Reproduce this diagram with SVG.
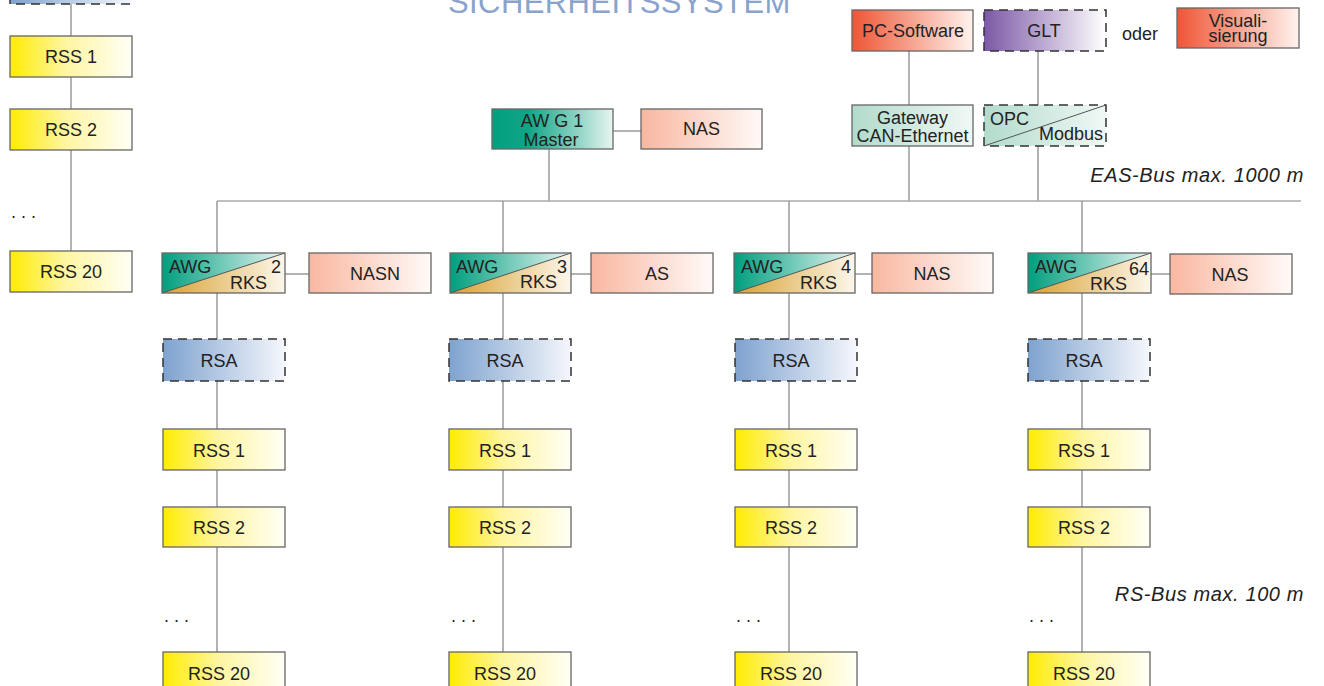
<svg xmlns="http://www.w3.org/2000/svg" width="1324" height="686" viewBox="0 0 1324 686">
<defs>
<linearGradient id="gY" x1="0" y1="0" x2="1" y2="0"><stop offset="0" stop-color="#ffec00"/><stop offset="0.45" stop-color="#fff5a0"/><stop offset="1" stop-color="#fffff6"/></linearGradient>
<linearGradient id="gB" x1="0" y1="0" x2="1" y2="0"><stop offset="0" stop-color="#7ea2cf"/><stop offset="1" stop-color="#f5f7fc"/></linearGradient>
<linearGradient id="gS" x1="0" y1="0" x2="1" y2="0"><stop offset="0" stop-color="#f9b7a0"/><stop offset="1" stop-color="#fffaf8"/></linearGradient>
<linearGradient id="gR" x1="0" y1="0" x2="1" y2="0"><stop offset="0" stop-color="#ef5535"/><stop offset="1" stop-color="#fff3ee"/></linearGradient>
<linearGradient id="gP" x1="0" y1="0" x2="1" y2="0"><stop offset="0" stop-color="#7c58a6"/><stop offset="1" stop-color="#ffffff"/></linearGradient>
<linearGradient id="gT" x1="0" y1="0" x2="1" y2="0"><stop offset="0" stop-color="#00a07f"/><stop offset="0.3" stop-color="#10a586"/><stop offset="1" stop-color="#e8f5f1"/></linearGradient>
<linearGradient id="gL" x1="0" y1="0" x2="1" y2="0"><stop offset="0" stop-color="#b2dbcc"/><stop offset="1" stop-color="#f0f8f5"/></linearGradient>
<linearGradient id="gA" x1="0" y1="0" x2="1" y2="0"><stop offset="0" stop-color="#009e7e"/><stop offset="1" stop-color="#e9f6f3"/></linearGradient>
<linearGradient id="gK" x1="0" y1="0" x2="1" y2="0"><stop offset="0" stop-color="#d9a02e"/><stop offset="1" stop-color="#fcf7ec"/></linearGradient>
</defs>
<style>
.t{font-family:"Liberation Sans",Arial,sans-serif;font-size:18px;fill:#222}
.c{text-anchor:middle}
.e{text-anchor:end}
.b{stroke:#666;stroke-width:1.3}
.d{stroke:#333;stroke-width:1.5;stroke-dasharray:9 6}
.ln{stroke:#9a9a9a;stroke-width:1.5;fill:none}
.bus{stroke:#aaa;stroke-width:1.6;fill:none}
.dg{stroke:#555;stroke-width:1;fill:none}
.it{font-family:"Liberation Sans",Arial,sans-serif;font-size:20px;font-style:italic;fill:#222;letter-spacing:0.6px}
.title{font-family:"Liberation Sans",Arial,sans-serif;font-size:31px;fill:#8aa3cc;letter-spacing:0.4px}
</style>
<rect width="1324" height="686" fill="#fff"/>
<text class="title" x="448" y="13">SICHERHEITSSYSTEM</text>
<g id="connectors">
<path class="ln" d="M71 4V36M71 77V109M71 150V251"/>
<path class="ln" d="M909 51V105M1038 51V105M909 146V201M1038 146V201M549 149V201M613 131H641"/>
<path class="bus" d="M217 201H1301"/>
<path class="ln" d="M217 201V253M217 293V339M217 381V429M217 470V507M217 547V652M217 693V700M285 274H309"/>
<path class="ln" d="M503 201V253M503 293V339M503 381V429M503 470V507M503 547V652M571 274H591"/>
<path class="ln" d="M789 201V253M789 293V339M789 381V429M789 470V507M789 547V652M855 274H872"/>
<path class="ln" d="M1082 201V253M1082 293V339M1082 381V429M1082 470V507M1082 547V652M1151 274H1170"/>
</g>
<g id="left-rsa"><rect x="10" y="-37" width="122" height="41" fill="url(#gB)" class="d"/></g>
<g id="left-rss1"><rect x="10" y="36" width="122" height="41" fill="url(#gY)" class="b"/><text class="t c" x="71" y="63">RSS 1</text></g>
<g id="left-rss2"><rect x="10" y="109" width="122" height="41" fill="url(#gY)" class="b"/><text class="t c" x="71" y="136">RSS 2</text></g>
<g id="left-dots"><text class="t" x="11" y="218">. . .</text></g>
<g id="left-rss20"><rect x="10" y="251" width="122" height="41" fill="url(#gY)" class="b"/><text class="t c" x="71" y="278">RSS 20</text></g>
<g id="pc-software"><rect x="852" y="10" width="121" height="41" fill="url(#gR)" class="b"/><text class="t c" x="913" y="37">PC-Software</text></g>
<g id="glt"><rect x="984" y="10" width="122" height="41" fill="url(#gP)" class="d"/><text class="t c" x="1044" y="37">GLT</text></g>
<g id="oder"><text class="t" x="1122" y="40">oder</text></g>
<g id="visualisierung"><rect x="1177" y="8" width="122" height="40" fill="url(#gR)" class="b"/><text class="t c" x="1238" y="27">Visuali-</text><text class="t c" x="1238" y="42">sierung</text></g>
<g id="gateway"><rect x="852" y="105" width="121" height="41" fill="url(#gL)" class="b"/><text class="t c" x="912.5" y="123.5">Gateway</text><text class="t c" x="912.5" y="141.5">CAN-Ethernet</text></g>
<g id="opc-modbus"><rect x="984" y="105" width="122" height="41" fill="url(#gL)" class="d"/><line class="dg" x1="984" y1="146" x2="1106" y2="105"/><text class="t" x="990" y="125">OPC</text><text class="t e" x="1103" y="140">Modbus</text></g>
<g id="awg1-master"><rect x="492" y="109" width="121" height="40" fill="url(#gT)" class="b"/><text class="t c" x="552" y="127">AW G 1</text><text class="t c" x="551" y="146">Master</text></g>
<g id="nas-master"><rect x="641" y="109" width="121" height="40" fill="url(#gS)" class="b"/><text class="t c" x="701.5" y="135">NAS</text></g>
<g id="eas-label"><text class="it e" x="1304" y="182">EAS-Bus max. 1000 m</text></g>
<g id="rs-label"><text class="it e" x="1304" y="601">RS-Bus max. 100 m</text></g>

<g id="awg2"><rect x="162" y="253" width="123" height="40" fill="url(#gA)"/><polygon points="162,293 285,253 285,293" fill="url(#gK)"/><line class="dg" x1="162" y1="293" x2="285" y2="253"/><rect x="162" y="253" width="123" height="40" fill="none" class="b"/><text class="t" x="169" y="273">AWG</text><text class="t e" x="267" y="289">RKS</text><text class="t e" x="281" y="273">2</text></g>
<g id="nasn"><rect x="309" y="253" width="122" height="40" fill="url(#gS)" class="b"/><text class="t c" x="375" y="280">NASN</text></g>
<g id="rsa-c1"><rect x="163" y="339" width="122" height="42" fill="url(#gB)" class="d"/><text class="t c" x="219" y="367">RSA</text></g>
<g id="rss1-c1"><rect x="163" y="429" width="122" height="41" fill="url(#gY)" class="b"/><text class="t c" x="219" y="456.5">RSS 1</text></g>
<g id="rss2-c1"><rect x="163" y="507" width="122" height="40" fill="url(#gY)" class="b"/><text class="t c" x="219" y="534">RSS 2</text></g>
<g id="dots-c1"><text class="t" x="164" y="622">. . .</text></g>
<g id="rss20-c1"><rect x="163" y="652" width="122" height="41" fill="url(#gY)" class="b"/><text class="t c" x="219" y="680">RSS 20</text></g>

<g id="awg3"><rect x="450" y="253" width="121" height="40" fill="url(#gA)"/><polygon points="450,293 571,253 571,293" fill="url(#gK)"/><line class="dg" x1="450" y1="293" x2="571" y2="253"/><rect x="450" y="253" width="121" height="40" fill="none" class="b"/><text class="t" x="456" y="273">AWG</text><text class="t e" x="557" y="288">RKS</text><text class="t e" x="567" y="273">3</text></g>
<g id="as"><rect x="591" y="253" width="122" height="40" fill="url(#gS)" class="b"/><text class="t c" x="657" y="280">AS</text></g>
<g id="rsa-c2"><rect x="449" y="339" width="122" height="42" fill="url(#gB)" class="d"/><text class="t c" x="505" y="367">RSA</text></g>
<g id="rss1-c2"><rect x="449" y="429" width="122" height="41" fill="url(#gY)" class="b"/><text class="t c" x="505" y="456.5">RSS 1</text></g>
<g id="rss2-c2"><rect x="449" y="507" width="122" height="40" fill="url(#gY)" class="b"/><text class="t c" x="505" y="534">RSS 2</text></g>
<g id="dots-c2"><text class="t" x="451" y="622">. . .</text></g>
<g id="rss20-c2"><rect x="449" y="652" width="122" height="41" fill="url(#gY)" class="b"/><text class="t c" x="505" y="680">RSS 20</text></g>

<g id="awg4"><rect x="734" y="253" width="121" height="40" fill="url(#gA)"/><polygon points="734,293 855,253 855,293" fill="url(#gK)"/><line class="dg" x1="734" y1="293" x2="855" y2="253"/><rect x="734" y="253" width="121" height="40" fill="none" class="b"/><text class="t" x="741" y="273">AWG</text><text class="t e" x="837" y="289">RKS</text><text class="t e" x="851" y="273">4</text></g>
<g id="nas-c3"><rect x="872" y="253" width="121" height="40" fill="url(#gS)" class="b"/><text class="t c" x="932" y="280">NAS</text></g>
<g id="rsa-c3"><rect x="735" y="339" width="122" height="42" fill="url(#gB)" class="d"/><text class="t c" x="791" y="367">RSA</text></g>
<g id="rss1-c3"><rect x="735" y="429" width="122" height="41" fill="url(#gY)" class="b"/><text class="t c" x="791" y="456.5">RSS 1</text></g>
<g id="rss2-c3"><rect x="735" y="507" width="122" height="40" fill="url(#gY)" class="b"/><text class="t c" x="791" y="534">RSS 2</text></g>
<g id="dots-c3"><text class="t" x="736" y="622">. . .</text></g>
<g id="rss20-c3"><rect x="735" y="652" width="122" height="41" fill="url(#gY)" class="b"/><text class="t c" x="791" y="680">RSS 20</text></g>

<g id="awg64"><rect x="1028" y="253" width="123" height="40" fill="url(#gA)"/><polygon points="1028,293 1151,253 1151,293" fill="url(#gK)"/><line class="dg" x1="1028" y1="293" x2="1151" y2="253"/><rect x="1028" y="253" width="123" height="40" fill="none" class="b"/><text class="t" x="1035" y="273">AWG</text><text class="t e" x="1127" y="290">RKS</text><text class="t e" x="1149" y="275">64</text></g>
<g id="nas-c4"><rect x="1170" y="254" width="122" height="40" fill="url(#gS)" class="b"/><text class="t c" x="1230" y="281">NAS</text></g>
<g id="rsa-c4"><rect x="1028" y="339" width="122" height="42" fill="url(#gB)" class="d"/><text class="t c" x="1084" y="367">RSA</text></g>
<g id="rss1-c4"><rect x="1028" y="429" width="122" height="41" fill="url(#gY)" class="b"/><text class="t c" x="1084" y="456.5">RSS 1</text></g>
<g id="rss2-c4"><rect x="1028" y="507" width="122" height="40" fill="url(#gY)" class="b"/><text class="t c" x="1084" y="534">RSS 2</text></g>
<g id="dots-c4"><text class="t" x="1029" y="622">. . .</text></g>
<g id="rss20-c4"><rect x="1028" y="652" width="122" height="41" fill="url(#gY)" class="b"/><text class="t c" x="1084" y="680">RSS 20</text></g>
</svg>
